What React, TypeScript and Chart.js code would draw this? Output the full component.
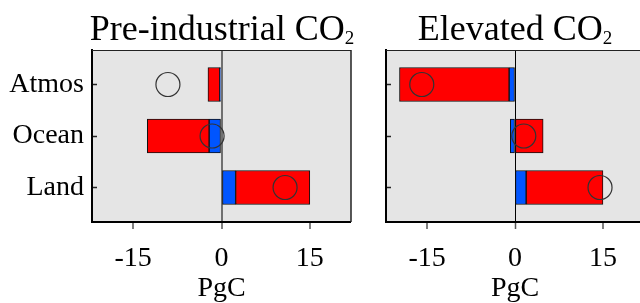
import React, { useEffect, useRef } from 'react';
import { Chart, registerables } from 'chart.js';

Chart.register(...registerables);

// ---- data ----
const categories = ['Atmos', 'Ocean', 'Land'];
const rowPositions = [1, 2, 3];
const xTickValues = [-15, 0, 15];

const preBlue = [-0.3, -2.1, 2.4];
const preRed = [-2.0, -10.5, 12.6];
const preNet = [-9.1, -1.6, 10.8];

const elevBlue = [-1.0, -0.8, 1.9];
const elevRed = [-18.7, 4.8, 13.1];
const elevNet = [-15.9, 1.5, 14.5];

const FONT = "'Liberation Serif', 'Times New Roman', serif";
const BLUE = '#0055ff';
const RED = '#ff0000';
const PANEL_BG = '#e5e5e5';

const framePlugin = {
  id: 'panelFrame',
  beforeDraw(chart: any, _args: any, opts: any) {
    const { ctx, chartArea: a } = chart;
    ctx.save();
    ctx.fillStyle = opts.bg || PANEL_BG;
    ctx.fillRect(a.left, a.top, a.right - a.left, a.bottom - a.top);
    ctx.restore();
  },
  afterDraw(chart: any) {
    const { ctx, chartArea: a } = chart;
    ctx.save();
    ctx.strokeStyle = '#222';
    ctx.lineWidth = 1;
    ctx.beginPath();
    ctx.moveTo(a.left, Math.round(a.top) + 0.5);
    ctx.lineTo(a.right, Math.round(a.top) + 0.5);
    ctx.stroke();
    ctx.lineWidth = 1.5;
    ctx.beginPath();
    ctx.moveTo(a.right, a.top);
    ctx.lineTo(a.right, a.bottom);
    ctx.stroke();
    ctx.restore();
  },
};

type PanelProps = {
  left: number;
  width: number;
  yAxisWidth: number;
  padRight: number;
  showLabels: boolean;
  zeroColor: string;
  zeroWidth: number;
  blue: number[];
  red: number[];
  net: number[];
};

function Panel(p: PanelProps) {
  const ref = useRef<HTMLCanvasElement | null>(null);
  useEffect(() => {
    if (!ref.current) return;
    const toPts = (arr: number[]) => arr.map((v, i) => ({ x: v, y: rowPositions[i] }));
    const chart = new Chart(ref.current, {
      type: 'bar',
      data: {
        datasets: [
          {
            type: 'scatter',
            data: toPts(p.net),
            pointRadius: 12,
            pointHoverRadius: 12,
            borderColor: '#333',
            backgroundColor: 'rgba(0,0,0,0)',
            borderWidth: 1.2,
          } as any,
          {
            type: 'bar',
            data: toPts(p.blue),
            backgroundColor: BLUE,
            borderColor: '#111',
            borderWidth: 1,
            borderSkipped: false,
            barThickness: 34,
          } as any,
          {
            type: 'bar',
            data: toPts(p.red),
            backgroundColor: RED,
            borderColor: '#111',
            borderWidth: 1,
            borderSkipped: false,
            barThickness: 34,
          } as any,
        ],
      },
      options: {
        responsive: false,
        animation: false,
        indexAxis: 'y',
        layout: { autoPadding: false, padding: { left: 0, right: p.padRight, top: 50, bottom: 0 } },
        plugins: {
          legend: { display: false },
          tooltip: { enabled: false },
          title: { display: false },
          panelFrame: { bg: PANEL_BG },
        } as any,
        scales: {
          x: {
            type: 'linear',
            min: -22,
            max: 22,
            stacked: true,
            offset: false,
            z: 1,
            afterBuildTicks: (s: any) => {
              s.ticks = xTickValues.map((v) => ({ value: v }));
            },
            ticks: {
              font: { family: FONT, size: 28 },
              color: '#000',
              padding: 13,
              maxRotation: 0,
              autoSkip: false,
              callback: (v: any) => String(v),
            },
            grid: {
              offset: false,
              drawOnChartArea: true,
              color: (c: any) => (c.tick && c.tick.value === 0 ? p.zeroColor : 'rgba(0,0,0,0)'),
              lineWidth: (c: any) => (c.tick && c.tick.value === 0 ? p.zeroWidth : 0),
              tickColor: '#555',
              tickWidth: 1.5,
              tickLength: 7,
            },
            border: { display: true, color: '#000', width: 2 },
            title: {
              display: true,
              text: 'PgC',
              font: { family: FONT, size: 28 },
              color: '#000',
              padding: { top: 0, bottom: -2 },
            },
            afterFit: (s: any) => {
              s.height = 81;
            },
          } as any,
          y: {
            type: 'linear',
            min: 0.33,
            max: 3.67,
            reverse: true,
            stacked: true,
            offset: false,
            afterBuildTicks: (s: any) => {
              s.ticks = rowPositions.map((v) => ({ value: v }));
            },
            ticks: {
              font: { family: FONT, size: 28 },
              color: '#000',
              padding: 13,
              autoSkip: false,
              callback: (v: any) => (p.showLabels ? categories[rowPositions.indexOf(Number(v))] : ''),
            },
            grid: {
              offset: false,
              drawOnChartArea: false,
              tickLength: -5,
              tickColor: '#222',
              tickWidth: 1.5,
            },
            border: { display: true, color: '#000', width: 2 },
            afterFit: (s: any) => {
              s.width = p.yAxisWidth;
            },
          } as any,
        },
      },
      plugins: [framePlugin as any],
    });
    return () => chart.destroy();
  }, []);
  return (
    <canvas
      ref={ref}
      width={p.width}
      height={303}
      style={{ position: 'absolute', left: p.left, top: 0, width: p.width, height: 303, display: 'block' }}
    />
  );
}

function Title({ center, text }: { center: number; text: string }) {
  return (
    <div
      style={{
        position: 'absolute',
        left: center - 200,
        width: 400,
        top: 10,
        textAlign: 'center',
        fontFamily: FONT,
        fontSize: 36,
        lineHeight: 1,
        color: '#000',
        whiteSpace: 'nowrap',
      }}
    >
      {text}
      <span style={{ fontSize: 19, position: 'relative', top: 4 }}>2</span>
    </div>
  );
}

export default function App() {
  return (
    <div
      style={{
        position: 'fixed',
        left: 0,
        top: 0,
        width: 640,
        height: 303,
        overflow: 'hidden',
        background: '#fff',
      }}
    >
      <Panel
        left={0}
        width={360}
        yAxisWidth={92}
        padRight={9}
        showLabels={true}
        zeroColor="#707070"
        zeroWidth={2}
        blue={preBlue}
        red={preRed}
        net={preNet}
      />
      <Panel
        left={360}
        width={300}
        yAxisWidth={26}
        padRight={16}
        showLabels={false}
        zeroColor="#000"
        zeroWidth={1}
        blue={elevBlue}
        red={elevRed}
        net={elevNet}
      />
      <Title center={222} text="Pre-industrial CO" />
      <Title center={515} text="Elevated CO" />
    </div>
  );
}
